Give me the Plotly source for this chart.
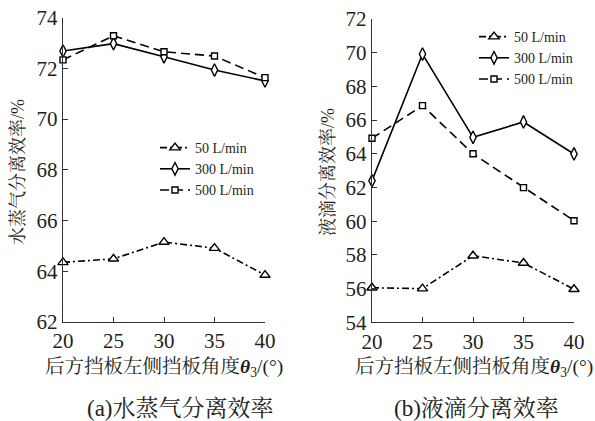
import plotly.graph_objects as go

# Baffle angle theta_3 (degrees)
angles = [20, 25, 30, 35, 40]

# (a) water vapour separation efficiency, %
vapor_50 = [64.35, 64.49, 65.15, 64.91, 63.85]
vapor_300 = [72.68, 72.97, 72.45, 71.93, 71.50]
vapor_500 = [72.33, 73.28, 72.65, 72.48, 71.63]

# (b) droplet separation efficiency, %
drop_50 = [56.05, 56.00, 57.95, 57.52, 55.96]
drop_300 = [62.40, 69.92, 64.98, 65.89, 63.99]
drop_500 = [64.92, 66.86, 64.00, 61.99, 60.03]

series_names = ["50 L/min", "300 L/min", "500 L/min"]
x_ticks = [20, 25, 30, 35, 40]
y_ticks_a = [62, 64, 66, 68, 70, 72, 74]
y_ticks_b = [54, 56, 58, 60, 62, 64, 66, 68, 70, 72]

FONT = "Liberation Serif, Times New Roman, Noto Serif CJK SC, Noto Sans CJK SC, serif"
INK = "#231f20"

styles = [
    dict(dash="7px,3px,2px,3px", symbol="triangle-up", size=9),
    dict(dash="solid", symbol="diamond-tall", size=9),
    dict(dash="9px,5px", symbol="square", size=6),
]

W, H = 595, 421


def px_x(v):
    return v / W


def px_y(v):
    return 1 - v / H


fig = go.Figure()

panels = [
    ([vapor_50, vapor_300, vapor_500], "x", "y", "legend"),
    ([drop_50, drop_300, drop_500], "x2", "y2", "legend2"),
]
for data, xa, ya, lg in panels:
    for name, vals, st in zip(series_names, data, styles):
        fig.add_trace(go.Scatter(
            x=angles, y=vals, name=name, mode="lines+markers",
            xaxis=xa, yaxis=ya, legend=lg, cliponaxis=False,
            line=dict(color="black", width=1.6, dash=st["dash"]),
            marker=dict(symbol=st["symbol"], size=st["size"], color="white",
                        line=dict(color="black", width=1.4)),
        ))

axis_common = dict(
    showline=True, linecolor="#333333", linewidth=1.4,
    ticks="inside", ticklen=5, tickwidth=1.2, tickcolor="#333333",
    showgrid=False, zeroline=False, automargin=False,
    tickfont=dict(family=FONT, size=21, color=INK),
)

legend_common = dict(
    xanchor="left", yanchor="top", bgcolor="rgba(0,0,0,0)", borderwidth=0,
    tracegroupgap=0, font=dict(family=FONT, size=14, color=INK),
)

fig.update_layout(
    width=W, height=H, template="none",
    margin=dict(l=0, r=0, t=0, b=0),
    paper_bgcolor="white", plot_bgcolor="white",
    font=dict(family=FONT, color=INK),
    xaxis=dict(domain=[px_x(63), px_x(265)], range=[20, 40], tickvals=x_ticks,
               anchor="y", **axis_common),
    yaxis=dict(domain=[px_y(322), px_y(17.5)], range=[62, 74], tickvals=y_ticks_a,
               anchor="x", **axis_common),
    xaxis2=dict(domain=[px_x(372), px_x(574)], range=[20, 40], tickvals=x_ticks,
                anchor="y2", **axis_common),
    yaxis2=dict(domain=[px_y(322.3), px_y(19)], range=[54, 72], tickvals=y_ticks_b,
                anchor="x2", **axis_common),
    legend=dict(x=px_x(155), y=px_y(132), **legend_common),
    legend2=dict(x=px_x(474), y=px_y(21), **legend_common),
    showlegend=True,
)

x_title = "后方挡板左侧挡板角度<b><i>θ</i></b><sub>3</sub>/(°)"
annos = [
    dict(text="水蒸气分离效率/%", x=px_x(18), y=px_y(172), textangle=-90, size=18),
    dict(text="液滴分离效率/%", x=px_x(328), y=px_y(172), textangle=-90, size=18),
    dict(text=x_title, x=px_x(164), y=px_y(368), textangle=0, size=19.5),
    dict(text=x_title, x=px_x(474), y=px_y(368), textangle=0, size=19.5),
    dict(text="(a)水蒸气分离效率", x=px_x(181), y=px_y(408), textangle=0, size=23),
    dict(text="(b)液滴分离效率", x=px_x(476), y=px_y(408), textangle=0, size=23),
]
for a in annos:
    fig.add_annotation(
        text=a["text"], x=a["x"], y=a["y"], xref="paper", yref="paper",
        xanchor="center", yanchor="middle", showarrow=False,
        textangle=a["textangle"],
        font=dict(family=FONT, size=a["size"], color=INK),
    )

fig.write_html("out.html")
